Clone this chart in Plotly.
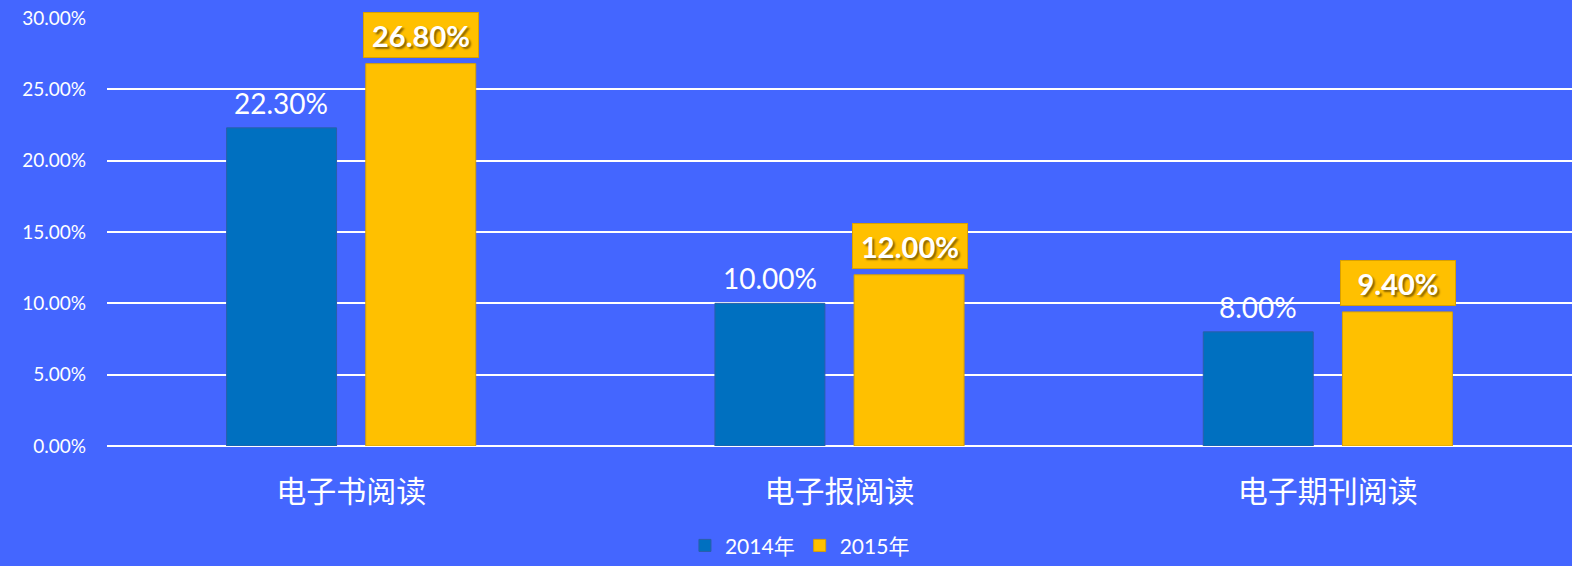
import plotly.graph_objects as go

categories = ["电子书阅读", "电子报阅读", "电子期刊阅读"]
years = ["2014年", "2015年"]
vals_2014 = [22.3, 10.0, 8.0]
vals_2015 = [26.8, 12.0, 9.4]
y_ticks = [0, 5, 10, 15, 20, 25, 30]
y_labels = ["%.2f%%" % t for t in y_ticks]

BG = "#4466FF"
latin = "Lato, 'Noto Sans CJK SC', sans-serif"

fig = go.Figure()
fig.add_trace(go.Bar(
    x=categories, y=vals_2014, name=years[0],
    marker=dict(color="#0070C0", line=dict(color="#2a5fa8", width=1)),
    cliponaxis=False,
))
fig.add_trace(go.Bar(
    x=categories, y=vals_2015, name=years[1],
    marker=dict(color="#FFC000", line=dict(color="#d9a000", width=1)),
    cliponaxis=False,
))

# plain labels for 2014
for c, v in zip(categories, vals_2014):
    fig.add_annotation(
        x=c, y=v, text="%.2f%%" % v, showarrow=False,
        xanchor="center", yanchor="bottom", xshift=-70, yshift=6,
        font=dict(color="white", size=28, family=latin),
    )

# boxed labels for 2015
for c, v in zip(categories, vals_2015):
    fig.add_annotation(
        x=c, y=v, text="<b>%.2f%%</b>" % v, showarrow=False,
        xanchor="center", yanchor="bottom", xshift=70, yshift=6,
        bgcolor="#FFC000", bordercolor="#d9a000", borderwidth=1, borderpad=2,
        width=110, height=40,
        font=dict(color="white", size=29, family=latin,
                  shadow="2px 2px 2px #8a6400"),
    )

fig.update_layout(
    width=1572, height=566,
    paper_bgcolor=BG, plot_bgcolor=BG,
    margin=dict(l=107, r=0, t=18, b=120, autoexpand=False),
    barmode="group", bargap=0.43, bargroupgap=0.21,
    showlegend=True,
    legend=dict(orientation="h", x=0.473, xanchor="center",
                yref="container", y=0.072, yanchor="top",
                font=dict(color="white", size=21, family=latin),
                itemwidth=30, traceorder="normal"),
    xaxis=dict(showgrid=False, showline=False, ticks="",
               tickfont=dict(color="white", size=30, family="'Noto Sans CJK SC'"),
               ticklabelstandoff=25),
    yaxis=dict(range=[0, 30], tickvals=y_ticks, ticktext=y_labels,
               showgrid=True, gridcolor="white", gridwidth=1.5,
               zeroline=True, zerolinecolor="white", zerolinewidth=2,
               tickfont=dict(color="white", size=19, family=latin),
               ticklabelstandoff=20),
)

fig.write_html("out.html", config={"displayModeBar": False},
               post_script="document.body.style.margin='0';")
